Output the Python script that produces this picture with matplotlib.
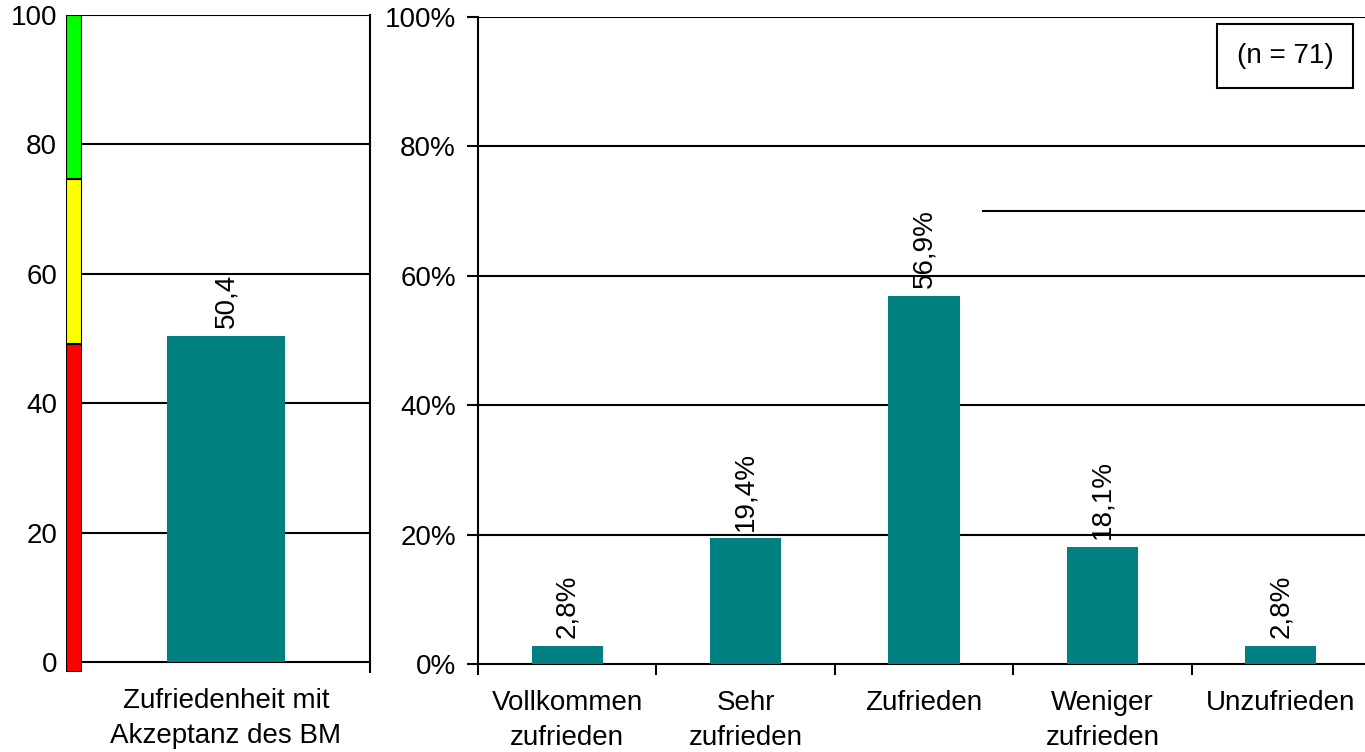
import matplotlib
matplotlib.use("Agg")
import matplotlib.pyplot as plt
from matplotlib.ticker import FuncFormatter

plt.rcParams['font.family'] = ['Liberation Sans', 'DejaVu Sans']

# Overall satisfaction score (0-100 scale)
score_label = ["Zufriedenheit mit\nAkzeptanz des BM"]
score_value = [50.4]

# Traffic-light bands of the score scale: (lower, upper, colour)
band_limits = [0, 50, 75, 100]
band_colors = ["#ff0000", "#ffff00", "#00ff00"]

# Distribution of answers in percent
categories = ["Vollkommen\nzufrieden", "Sehr\nzufrieden", "Zufrieden",
              "Weniger\nzufrieden", "Unzufrieden"]
shares = [2.8, 19.4, 56.9, 18.1, 2.8]
sample_note = "(n = 71)"
ref_level = 70

teal = "#008080"
fs = 20
lw = 1.5
W, H = 1365, 752

fig = plt.figure(figsize=(W / 100, H / 100), dpi=100)

def frac(x0, y_top, x1, y_bot):
    return [x0 / W, 1 - y_bot / H, (x1 - x0) / W, (y_bot - y_top) / H]

# ---- colour band strip ----
ax_s = fig.add_axes(frac(66, 15, 82, 672))
for lo, hi, c in zip(band_limits[:-1], band_limits[1:], band_colors):
    ax_s.bar(0, hi - lo, bottom=lo, width=1, color=c, edgecolor="black",
             linewidth=lw)
ax_s.set_xlim(-0.5, 0.5)
ax_s.set_ylim(0, 100)
ax_s.axis("off")

# ---- left panel: score ----
ax1 = fig.add_axes(frac(82, 15, 370, 662))
ax1.bar(range(len(score_value)), score_value, width=0.41, color=teal, zorder=3)
ax1.set_xlim(-0.5, 0.5)
ax1.set_ylim(0, 100)
ax1.set_yticks(range(0, 101, 20))
ax1.tick_params(axis="y", length=0, pad=18, labelsize=fs)
for y in range(20, 101, 20):
    ax1.axhline(y, color="black", linewidth=lw, zorder=1)
ax1.set_xticks(range(len(score_label)))
ax1.set_xticklabels(score_label, fontsize=fs, linespacing=1.45)
ax1.tick_params(axis="x", length=0, pad=19)
ax1.set_xticks([0.5], minor=True)
ax1.tick_params(axis="x", which="minor", length=8, width=lw, direction="out")
for s in ["top", "left"]:
    ax1.spines[s].set_visible(False)
for s in ["right", "bottom"]:
    ax1.spines[s].set_linewidth(lw)
for i, v in enumerate(score_value):
    ax1.text(i, v + 1.2, f"{v:.1f}".replace(".", ","), rotation=90,
             ha="center", va="bottom", fontsize=fs)

# ---- right panel: distribution ----
ax2 = fig.add_axes(frac(478, 17, 1370, 664))
x = range(len(categories))
ax2.bar(x, shares, width=0.4, color=teal, zorder=3)
ax2.set_xlim(-0.5, len(categories) - 0.5)
ax2.set_ylim(0, 100)
ax2.set_yticks(range(0, 101, 20))
ax2.yaxis.set_major_formatter(FuncFormatter(lambda v, p: f"{v:.0f}%"))
ax2.tick_params(axis="y", length=8, width=lw, pad=8, labelsize=fs)
for y in range(20, 101, 20):
    ax2.axhline(y, color="black", linewidth=lw, zorder=1)
ax2.axhline(ref_level, xmin=(983 - 478) / (1370 - 478), xmax=1,
            color="black", linewidth=lw, zorder=1)
ax2.set_xticks(list(x))
ax2.set_xticklabels(categories, fontsize=fs, linespacing=1.45, va="top")
ax2.tick_params(axis="x", length=0, pad=19)
ax2.set_xticks([i - 0.5 for i in range(len(categories) + 1)], minor=True)
ax2.tick_params(axis="x", which="minor", length=8, width=lw, direction="out")
for s in ["top", "right"]:
    ax2.spines[s].set_visible(False)
for s in ["left", "bottom"]:
    ax2.spines[s].set_linewidth(lw)
for i, v in enumerate(shares):
    ax2.text(i, v + 1.2, f"{v:.1f}%".replace(".", ","), rotation=90,
             ha="center", va="bottom", fontsize=fs)

ax2.text(1285 / W, 1 - 56 / H, sample_note, transform=fig.transFigure,
         ha="center", va="center", fontsize=fs,
         bbox=dict(boxstyle="square,pad=0.7", facecolor="white",
                   edgecolor="black", linewidth=lw))

fig.savefig("out.png", dpi=100)
